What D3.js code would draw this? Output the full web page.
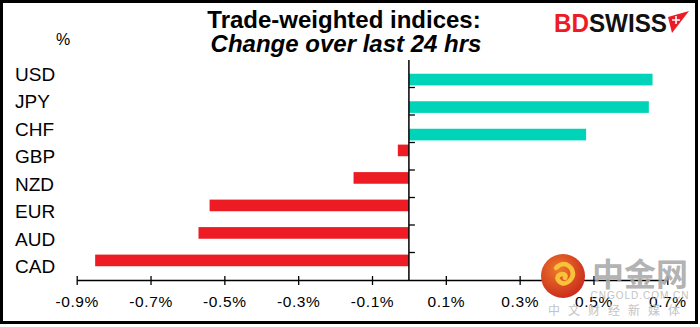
<!DOCTYPE html>
<html>
<head>
<meta charset="utf-8">
<script src="https://cdn.jsdelivr.net/npm/d3@7"></script>
<style>
  body { margin: 0; background: #fff; }
  text { font-family: Arial, "Liberation Sans", sans-serif; }
</style>
</head>
<body>
<div id="chart"></div>
<script>
/***********************************************/
//                  DATA                       //
/***********************************************/

const currencies = ["USD", "JPY", "CHF", "GBP", "NZD", "EUR", "AUD", "CAD"];
const changes = [0.66, 0.65, 0.48, -0.03, -0.15, -0.54, -0.57, -0.85];
const tickValues = [-0.9, -0.7, -0.5, -0.3, -0.1, 0.1, 0.3, 0.5, 0.7];
const series = ["down", "up"];

const width = 700,
    height = 327;

const svg = d3.select("#chart")
  .append("svg")
    .attr("width", width)
    .attr("height", height);

// frame
svg.append("rect")
    .attr("x", 1.5)
    .attr("y", 1.5)
    .attr("width", 695)
    .attr("height", 321)
    .attr("fill", "#fff")
    .attr("stroke", "#000")
    .attr("stroke-width", 3);

const x = d3.scaleLinear()
    .domain([-0.9, 0.7])
    .range([76.7, 667.3]);

const y = d3.scaleBand()
    .domain(currencies)
    .range([60, 280]);

// excel style: falling and rising series sit in separate slots of each band
const sub = d3.scaleBand()
    .domain(series)
    .range([0, y.bandwidth()])
    .paddingOuter(0.18);

const data = currencies.map((c, i) => ({ cur: c, val: changes[i], s: changes[i] < 0 ? "down" : "up" }));

/***********************************************/
//                  BARS                       //
/***********************************************/

svg.selectAll(".bar")
  .data(data)
  .join("rect")
    .attr("class", "bar")
    .attr("x", d => x(Math.min(0, d.val)))
    .attr("y", d => y(d.cur) + sub(d.s))
    .attr("width", d => Math.abs(x(d.val) - x(0)))
    .attr("height", sub.bandwidth())
    .attr("fill", d => d.val < 0 ? "#ed1c24" : "#00d4b8");

// x axis, ticks cross the line
const xAxis = svg.append("g")
    .attr("transform", `translate(0, 280)`)
    .call(d3.axisBottom(x)
      .tickValues(tickValues)
      .tickSizeInner(5)
      .tickSizeOuter(0)
      .tickPadding(11)
      .tickFormat(d => d.toFixed(1) + "%"));

xAxis.select(".domain").attr("stroke-width", 1.5);
xAxis.selectAll(".tick line").attr("y1", -4).attr("stroke-width", 1.3);
xAxis.selectAll(".tick text")
    .style("font-size", "15.5px")
    .style("letter-spacing", "0.6px")
    .attr("fill", "#000");

// y axis at zero, ticks on band edges
svg.append("line")
    .attr("x1", x(0)).attr("x2", x(0))
    .attr("y1", y.range()[0]).attr("y2", y.range()[1])
    .attr("stroke", "#000")
    .attr("stroke-width", 1.5);

svg.selectAll(".ytick")
  .data(currencies.slice(1))
  .join("line")
    .attr("class", "ytick")
    .attr("x1", x(0)).attr("x2", x(0) + 6)
    .attr("y1", d => y(d)).attr("y2", d => y(d))
    .attr("stroke", "#000")
    .attr("stroke-width", 1.3);

svg.selectAll(".cat")
  .data(currencies)
  .join("text")
    .attr("class", "cat")
    .attr("x", 15)
    .attr("y", d => y(d) + y.bandwidth() / 2)
    .attr("dy", "0.36em")
    .style("font-size", "19px")
    .text(d => d);

svg.append("text")
    .attr("x", 63)
    .attr("y", 45)
    .attr("text-anchor", "middle")
    .style("font-size", "16px")
    .text("%");

/***********************************************/
//                  TITLE                      //
/***********************************************/

svg.append("text")
    .attr("x", 344)
    .attr("y", 28)
    .attr("text-anchor", "middle")
    .style("font-size", "24px")
    .style("font-weight", "bold")
    .text("Trade-weighted indices:");

svg.append("text")
    .attr("x", 346)
    .attr("y", 52)
    .attr("text-anchor", "middle")
    .style("font-size", "24px")
    .style("font-weight", "bold")
    .style("font-style", "italic")
    .text("Change over last 24 hrs");

// BDSWISS logo
const logo = svg.append("text")
    .attr("x", 554)
    .attr("y", 32)
    .attr("textLength", 113)
    .attr("lengthAdjust", "spacingAndGlyphs")
    .style("font-size", "25px")
    .style("font-weight", "bold");
logo.append("tspan").attr("fill", "#ed1c24").text("BD");
logo.append("tspan").attr("fill", "#111").text("SWISS");

svg.append("path")
    .attr("d", "M668,17 L689,11 L672,33 Z")
    .attr("fill", "#ed1c24");
svg.append("path")
    .attr("d", "M676,16 v8 M672,20 h8")
    .attr("stroke", "#fff")
    .attr("stroke-width", 1.6);

/***********************************************/
//                WATERMARK                    //
/***********************************************/

const grad = svg.append("defs").append("radialGradient")
    .attr("id", "wm")
    .attr("cx", "40%").attr("cy", "35%").attr("r", "70%");
grad.append("stop").attr("offset", "0%").attr("stop-color", "#f07a2a");
grad.append("stop").attr("offset", "100%").attr("stop-color", "#c8281c");

svg.append("circle")
    .attr("cx", 563)
    .attr("cy", 276)
    .attr("r", 22)
    .attr("fill", "url(#wm)");

svg.append("path")
    .attr("d", "M556,268 q8,-8 15,0 q5,8 -3,14 q-6,4 -10,-2 q-2,-5 4,-6 q5,0 3,4")
    .attr("fill", "none")
    .attr("stroke", "#f8c23a")
    .attr("stroke-width", 4.5)
    .attr("stroke-linecap", "round");

svg.append("text")
    .attr("x", 640)
    .attr("y", 286)
    .attr("text-anchor", "middle")
    .attr("fill", "#a9a9a9")
    .attr("fill-opacity", 0.9)
    .style("font-family", "'Noto Sans CJK SC', sans-serif")
    .style("font-size", "32px")
    .style("font-weight", "bold")
    .text("中金网");

svg.append("text")
    .attr("x", 640)
    .attr("y", 299)
    .attr("text-anchor", "middle")
    .attr("fill", "#b5b5b5")
    .attr("fill-opacity", 0.85)
    .style("font-size", "10px")
    .style("letter-spacing", "1px")
    .text("CNGOLD.COM.CN");

svg.append("text")
    .attr("x", 618)
    .attr("y", 315)
    .attr("text-anchor", "middle")
    .attr("fill", "#c4c4c4")
    .style("font-family", "'Noto Sans CJK SC', sans-serif")
    .style("font-size", "12px")
    .style("letter-spacing", "8px")
    .text("中文财经新媒体");
</script>
</body>
</html>
